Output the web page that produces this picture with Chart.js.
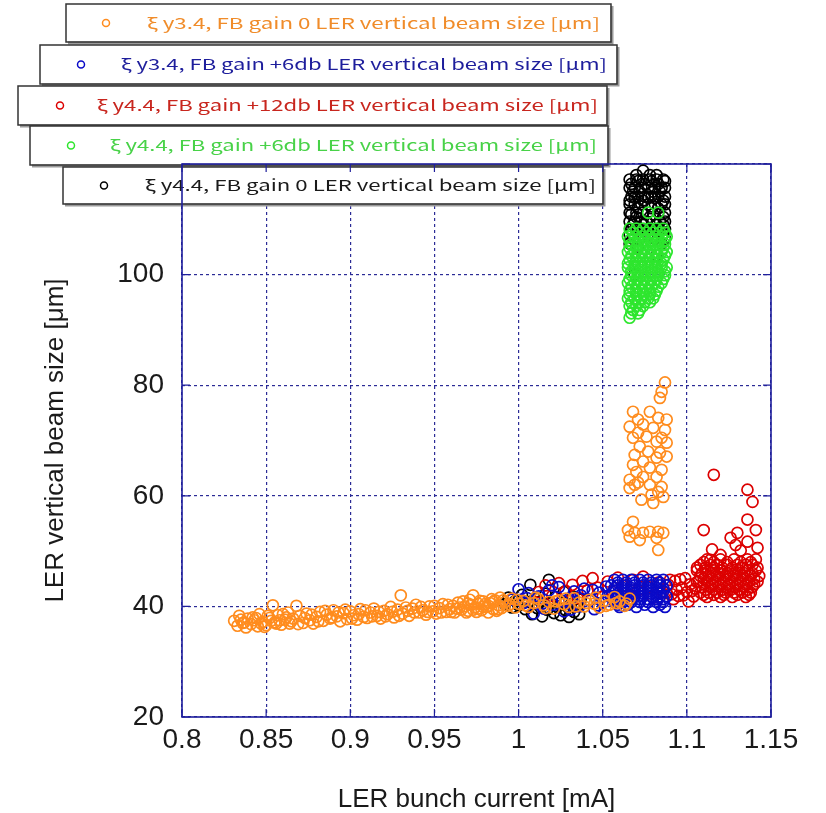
<!DOCTYPE html>
<html>
<head>
<meta charset="utf-8">
<script src="https://cdn.jsdelivr.net/npm/chart.js@4/dist/chart.umd.min.js"></script>
<style>
  html, body { margin: 0; padding: 0; background: #ffffff; }
  canvas { display: block; }
</style>
</head>
<body>
<canvas id="chart" width="826" height="813"></canvas>
<script>
// ---- axis ticks ----
const xTicks = [0.8, 0.85, 0.9, 0.95, 1, 1.05, 1.1, 1.15];
const xTickLabels = ['0.8', '0.85', '0.9', '0.95', '1', '1.05', '1.1', '1.15'];
const yTicks = [20, 40, 60, 80, 100, 120];
const yTickLabels = ['20', '40', '60', '80', '100', ''];

// ---- series names ----
const seriesLabels = [
  'ξ y3.4, FB gain 0 LER vertical beam size [μm]',
  'ξ y3.4, FB gain +6db LER vertical beam size [μm]',
  'ξ y4.4, FB gain +12db LER vertical beam size [μm]',
  'ξ y4.4, FB gain +6db LER vertical beam size [μm]',
  'ξ y4.4, FB gain 0 LER vertical beam size [μm]'
];

// ---- measurements: [bunch current mA, vertical beam size um] ----
const xi34Gain0 = [
  [0.831,37.4],[0.833,36.5],[0.834,38.3],[0.835,37.6],[0.836,37.0],[0.837,37.1],[0.838,36.2],[0.839,37.8],
  [0.841,36.8],[0.842,38.0],[0.843,37.5],[0.844,37.9],[0.845,36.4],[0.846,38.6],[0.847,36.9],[0.848,37.2],
  [0.849,36.3],[0.850,36.6],[0.851,38.3],[0.852,37.9],[0.853,37.4],[0.854,40.2],[0.855,37.1],[0.856,36.9],
  [0.857,38.4],[0.858,37.5],[0.859,36.7],[0.860,38.6],[0.861,37.6],[0.862,38.0],[0.863,38.9],[0.864,36.9],
  [0.865,37.3],[0.866,37.8],[0.868,40.1],[0.869,36.8],[0.870,38.3],[0.872,37.0],[0.873,37.9],[0.874,38.7],
  [0.876,37.5],[0.877,38.5],[0.878,36.9],[0.880,38.1],[0.881,37.3],[0.882,39.0],[0.884,37.4],[0.885,39.2],
  [0.886,38.5],[0.888,37.8],[0.889,38.0],[0.890,39.3],[0.892,38.2],[0.893,38.9],[0.894,37.3],[0.896,38.8],
  [0.897,39.4],[0.898,37.7],[0.900,39.1],[0.901,37.8],[0.902,38.4],[0.904,37.6],[0.905,38.6],[0.906,39.5],
  [0.908,38.1],[0.909,39.3],[0.910,37.9],[0.912,38.9],[0.913,38.2],[0.914,39.6],[0.916,38.3],[0.917,39.0],
  [0.918,37.8],[0.920,39.2],[0.921,38.2],[0.922,38.6],[0.924,39.9],[0.925,39.0],[0.926,38.0],[0.928,39.4],
  [0.929,38.3],[0.930,42.0],[0.931,38.7],[0.933,39.8],[0.934,39.2],[0.935,38.3],[0.937,39.6],[0.938,38.9],
  [0.939,40.3],[0.941,38.9],[0.942,39.9],[0.943,39.3],[0.945,38.5],[0.946,39.0],[0.947,40.0],[0.949,39.1],
  [0.950,40.1],[0.951,38.7],[0.953,39.7],[0.954,38.9],[0.955,40.4],[0.957,39.0],[0.958,40.3],[0.959,39.5],
  [0.960,39.0],[0.961,40.1],[0.962,38.9],[0.963,39.6],[0.964,40.7],[0.965,39.8],[0.966,39.4],[0.967,40.9],
  [0.968,40.0],[0.969,38.9],[0.970,39.2],[0.970,40.5],[0.971,41.2],[0.972,40.3],[0.973,42.0],[0.973,39.4],
  [0.974,39.8],[0.975,39.0],[0.976,40.5],[0.976,39.6],[0.977,41.0],[0.978,39.3],[0.979,40.9],[0.979,39.9],
  [0.980,40.4],[0.981,39.9],[0.982,38.9],[0.982,40.1],[0.983,40.6],[0.984,41.3],[0.985,39.5],[0.985,40.8],
  [0.986,41.1],[0.987,39.2],[0.988,40.2],[0.988,39.5],[0.989,41.6],[0.990,39.7],[0.991,41.1],[0.992,40.8],
  [0.994,40.1],[0.995,40.4],[0.996,41.4],[0.998,39.8],[0.999,41.2],[1.000,40.5],[1.003,41.0],[1.004,40.2],
  [1.006,39.9],[1.009,40.6],[1.010,41.6],[1.012,41.3],[1.015,40.2],[1.016,39.7],[1.018,40.8],[1.021,39.6],
  [1.022,40.9],[1.024,41.1],[1.027,40.4],[1.028,41.4],[1.030,39.9],[1.033,41.5],[1.034,40.0],[1.036,40.7],
  [1.039,40.0],[1.040,40.6],[1.042,41.2],[1.045,40.5],[1.046,41.6],[1.048,39.8],[1.051,41.0],[1.052,40.1],
  [1.054,40.3],[1.057,41.7],[1.058,40.6],[1.060,40.9],[1.063,40.1],[1.064,40.5],[1.066,41.4],
  [1.087,80.5],[1.085,78.8],[1.084,77.7],[1.068,75.2],[1.078,75.2],[1.071,73.8],[1.083,74.1],[1.088,73.8],
  [1.074,72.9],[1.066,72.5],[1.080,72.3],[1.087,71.9],[1.071,71.4],[1.076,70.7],[1.085,70.5],[1.068,70.5],
  [1.082,69.8],[1.088,69.6],[1.072,68.9],[1.077,68.0],[1.084,67.8],[1.069,67.4],[1.082,66.9],[1.088,67.1],
  [1.074,66.2],[1.068,65.6],[1.078,65.1],[1.085,64.7],[1.070,64.3],[1.074,63.4],[1.082,63.4],[1.066,62.9],
  [1.071,62.4],[1.078,62.0],[1.085,61.6],[1.083,60.7],[1.086,59.8],[1.079,60.2],[1.073,59.3],[1.080,58.7],
  [1.069,62.0],[1.066,61.4],
  [1.068,55.3],[1.065,53.8],[1.069,53.3],[1.074,53.3],[1.078,53.5],[1.083,53.5],[1.086,53.3],[1.072,52.0],
  [1.066,52.6],[1.082,52.4],[1.083,50.2]
];

const xi34Gain6 = [
  [0.996,41.2],[1.000,43.1],[1.003,40.6],[1.005,41.5],[1.006,42.4],[1.009,38.7],[1.012,41.8],[1.014,40.5],
  [1.015,39.6],[1.018,42.9],[1.020,43.8],[1.021,40.3],[1.024,43.5],[1.026,41.0],[1.027,39.1],[1.030,41.4],
  [1.031,39.4],[1.033,42.7],[1.036,40.0],[1.037,42.0],[1.039,43.2],[1.042,41.1],[1.044,43.0],[1.045,39.5],
  [1.047,40.2],[1.048,42.5],[1.050,40.7],[1.052,43.6],[1.053,41.9],
  [1.057,44.8],[1.062,44.8],[1.067,44.8],[1.072,44.8],[1.077,44.8],[1.082,44.8],[1.086,44.8],
  [1.059,44.3],[1.064,44.3],[1.069,44.3],[1.074,44.3],[1.079,44.3],[1.084,44.3],
  [1.055,43.8],[1.059,43.8],[1.064,43.8],[1.069,43.8],[1.074,43.8],[1.079,43.8],[1.084,43.8],[1.088,43.8],
  [1.057,43.3],[1.062,43.3],[1.067,43.3],[1.072,43.3],[1.077,43.3],[1.082,43.3],[1.086,43.3],
  [1.057,42.8],[1.062,42.8],[1.067,42.8],[1.072,42.8],[1.077,42.8],[1.082,42.8],[1.086,42.8],
  [1.059,42.3],[1.064,42.3],[1.069,42.3],[1.074,42.3],[1.079,42.3],[1.084,42.3],
  [1.055,41.8],[1.059,41.8],[1.064,41.8],[1.069,41.8],[1.074,41.8],[1.079,41.8],[1.084,41.8],[1.088,41.8],
  [1.057,41.3],[1.062,41.3],[1.067,41.3],[1.072,41.3],[1.077,41.3],[1.082,41.3],[1.086,41.3],
  [1.057,40.8],[1.062,40.8],[1.067,40.8],[1.072,40.8],[1.077,40.8],[1.082,40.8],[1.086,40.8],
  [1.059,40.3],[1.065,40.3],[1.075,40.3],[1.084,40.3],
  [1.060,39.9],[1.070,39.9],[1.080,39.9],[1.087,39.9]
];

const xi44Gain12 = [
  [1.012,42.6],[1.016,43.8],[1.020,41.9],[1.024,44.2],[1.028,42.8],[1.032,43.9],[1.035,41.5],[1.038,44.6],
  [1.041,42.9],[1.044,45.1],[1.047,43.4],[1.050,41.8],[1.053,44.5],[1.056,42.6],[1.059,45.2],[1.062,43.7],
  [1.065,41.9],[1.068,44.8],[1.071,42.9],[1.074,45.4],[1.077,43.5],[1.080,41.6],[1.083,44.3],[1.086,42.7],
  [1.088,42.4],[1.089,43.9],[1.090,44.8],[1.091,42.2],[1.092,41.3],[1.093,44.6],[1.094,43.0],[1.095,41.9],
  [1.096,44.9],[1.097,43.4],[1.098,42.0],[1.099,45.1],[1.100,42.6],[1.101,40.9],[1.102,44.0],[1.103,42.8],
  [1.104,41.8],[1.105,43.2],[1.106,44.4],
  [1.112,48.5],[1.120,48.5],[1.128,48.5],[1.136,48.5],[1.141,48.5],
  [1.110,48.0],[1.116,48.0],[1.124,48.0],[1.132,48.0],[1.138,48.0],
  [1.108,47.5],[1.114,47.5],[1.118,47.5],[1.124,47.5],[1.130,47.5],[1.135,47.5],[1.139,47.5],
  [1.111,47.0],[1.116,47.0],[1.121,47.0],[1.127,47.0],[1.133,47.0],[1.142,47.0],
  [1.106,46.5],[1.111,46.5],[1.116,46.5],[1.121,46.5],[1.126,46.5],[1.131,46.5],[1.136,46.5],[1.141,46.5],
  [1.109,46.0],[1.114,46.0],[1.119,46.0],[1.124,46.0],[1.129,46.0],[1.134,46.0],[1.139,46.0],
  [1.108,45.5],[1.113,45.5],[1.118,45.5],[1.123,45.5],[1.128,45.5],[1.133,45.5],[1.138,45.5],[1.143,45.5],
  [1.110,45.0],[1.115,45.0],[1.120,45.0],[1.125,45.0],[1.130,45.0],[1.135,45.0],[1.140,45.0],
  [1.107,44.5],[1.112,44.5],[1.117,44.5],[1.122,44.5],[1.127,44.5],[1.132,44.5],[1.137,44.5],[1.142,44.5],
  [1.110,44.0],[1.115,44.0],[1.120,44.0],[1.125,44.0],[1.130,44.0],[1.135,44.0],[1.140,44.0],
  [1.109,43.5],[1.114,43.5],[1.119,43.5],[1.124,43.5],[1.129,43.5],[1.134,43.5],[1.139,43.5],
  [1.111,43.0],[1.116,43.0],[1.121,43.0],[1.126,43.0],[1.131,43.0],[1.136,43.0],
  [1.108,42.5],[1.113,42.5],[1.118,42.5],[1.123,42.5],[1.128,42.5],[1.133,42.5],[1.138,42.5],
  [1.110,42.1],[1.116,42.1],[1.122,42.1],[1.130,42.1],[1.137,42.1],
  [1.112,41.7],[1.120,41.7],[1.127,41.7],[1.135,41.7],
  [1.116,63.8],[1.136,61.1],[1.139,58.9],[1.136,55.7],[1.141,53.8],[1.110,53.8],[1.126,52.4],[1.130,53.3],
  [1.142,50.6],[1.120,49.3],[1.106,47.0],[1.132,50.1],[1.136,51.7],[1.129,51.1],[1.115,50.3],[1.114,48.4]
];

const xi44Gain6 = [
  [1.077,111.2],[1.083,111.2],
  [1.066,108.3],[1.070,108.3],[1.074,108.3],[1.078,108.3],[1.082,108.3],[1.086,108.3],
  [1.068,107.6],[1.072,107.6],[1.076,107.6],[1.080,107.6],[1.084,107.6],[1.087,107.6],
  [1.065,106.9],[1.069,106.9],[1.073,106.9],[1.077,106.9],[1.081,106.9],[1.085,106.9],[1.088,106.9],
  [1.066,106.2],[1.071,106.2],[1.075,106.2],[1.079,106.2],[1.083,106.2],[1.087,106.2],
  [1.067,105.5],[1.071,105.5],[1.075,105.5],[1.079,105.5],[1.083,105.5],[1.087,105.5],
  [1.066,104.8],[1.070,104.8],[1.074,104.8],[1.078,104.8],[1.082,104.8],[1.086,104.8],
  [1.065,104.1],[1.069,104.1],[1.073,104.1],[1.077,104.1],[1.081,104.1],[1.085,104.1],[1.088,104.1],
  [1.067,103.4],[1.071,103.4],[1.075,103.4],[1.079,103.4],[1.083,103.4],[1.087,103.4],
  [1.066,102.7],[1.070,102.7],[1.074,102.7],[1.078,102.7],[1.082,102.7],[1.086,102.7],
  [1.065,102.0],[1.069,102.0],[1.073,102.0],[1.077,102.0],[1.081,102.0],[1.085,102.0],
  [1.065,101.3],[1.069,101.3],[1.073,101.3],[1.077,101.3],[1.081,101.3],[1.085,101.3],[1.088,101.3],
  [1.067,100.6],[1.071,100.6],[1.075,100.6],[1.079,100.6],[1.083,100.6],[1.087,100.6],
  [1.067,99.9],[1.071,99.9],[1.075,99.9],[1.079,99.9],[1.083,99.9],[1.087,99.9],
  [1.066,99.2],[1.070,99.2],[1.074,99.2],[1.078,99.2],[1.082,99.2],[1.086,99.2],
  [1.065,98.5],[1.069,98.5],[1.073,98.5],[1.077,98.5],[1.081,98.5],[1.085,98.5],
  [1.067,97.8],[1.071,97.8],[1.075,97.8],[1.079,97.8],[1.083,97.8],
  [1.066,97.1],[1.070,97.1],[1.074,97.1],[1.078,97.1],[1.082,97.1],
  [1.066,96.4],[1.070,96.4],[1.074,96.4],[1.078,96.4],[1.081,96.4],
  [1.065,95.7],[1.069,95.7],[1.073,95.7],[1.077,95.7],[1.080,95.7],
  [1.067,95.0],[1.071,95.0],[1.075,95.0],[1.078,95.0],
  [1.066,94.3],[1.070,94.3],[1.074,94.3],
  [1.068,93.6],[1.072,93.6],
  [1.067,93.0],[1.071,93.0],[1.066,92.2]
];

const xi44Gain0 = [
  [0.992,40.4],[0.994,41.6],[0.996,39.8],[0.998,41.0],[1.000,40.2],[1.002,42.1],[1.004,39.5],[1.006,40.8],
  [1.007,43.9],[1.008,38.6],[1.010,41.5],[1.011,39.7],[1.013,40.9],[1.014,38.2],[1.016,42.3],[1.017,39.4],
  [1.018,44.8],[1.019,40.6],[1.021,38.8],[1.022,41.7],[1.023,39.9],[1.025,38.4],[1.026,40.9],[1.027,42.6],
  [1.028,39.3],[1.030,38.1],[1.031,40.4],[1.032,41.8],[1.033,39.0],[1.035,40.1],[1.036,38.6],[1.037,41.2],
  [1.074,118.8],
  [1.070,118.0],[1.078,118.0],[1.082,118.0],
  [1.066,117.2],[1.070,117.2],[1.074,117.2],[1.078,117.2],[1.082,117.2],[1.086,117.2],
  [1.071,116.9],[1.079,116.9],[1.087,116.9],
  [1.067,116.4],[1.075,116.4],[1.083,116.4],
  [1.066,115.7],[1.069,115.7],[1.073,115.7],[1.077,115.7],[1.081,115.7],[1.085,115.7],[1.087,115.7],
  [1.068,115.0],[1.072,115.0],[1.080,115.0],[1.084,115.0],
  [1.067,114.1],[1.071,114.1],[1.075,114.1],[1.079,114.1],[1.083,114.1],[1.087,114.1],
  [1.069,113.9],[1.077,113.9],[1.081,113.9],
  [1.066,113.4],[1.074,113.4],[1.086,113.4],
  [1.066,112.7],[1.069,112.7],[1.073,112.7],[1.077,112.7],[1.081,112.7],[1.085,112.7],[1.087,112.7],
  [1.071,112.0],[1.079,112.0],[1.083,112.0],
  [1.066,111.2],[1.070,111.2],[1.074,111.2],[1.083,111.2],[1.087,111.2],
  [1.067,110.9],[1.080,110.9],
  [1.070,110.4],[1.078,110.4],[1.086,110.4],
  [1.066,109.6],[1.069,109.6],[1.073,109.6],[1.076,109.6],[1.080,109.6],[1.084,109.6],[1.087,109.6],
  [1.068,109.0],[1.074,109.0],[1.082,109.0],[1.086,109.0],
  [1.067,108.2],[1.071,108.2],[1.075,108.2],[1.079,108.2],[1.083,108.2],[1.087,108.2],
  [1.066,107.3],[1.077,107.3],[1.086,107.3],
  [1.068,106.5],[1.072,106.5],[1.081,106.5],[1.087,106.5],
  [1.066,105.6],[1.085,105.6],
  [1.071,105.0],[1.082,103.5],[1.069,100.0]
];

const seriesData = [xi34Gain0, xi34Gain6, xi44Gain12, xi44Gain6, xi44Gain0];
const markerColors = ['#ff8c1e', '#0a0ac8', '#dc0000', '#2ee62e', '#000000'];
const labelColors = ['#f08c2a', '#1e1e9c', '#c8261e', '#48d248', '#1a1a1a'];
// stacking: orange on top, then blue, green, red, black at the bottom
const drawOrder = [1, 2, 4, 3, 5];

// ---- legend box placement (one box per series) ----
const legendBoxes = [
  { x: 66, y: 4,   w: 545, h: 38, mx: 106, tx: 147, tw: 453 },
  { x: 40, y: 45,  w: 577, h: 39, mx: 81,  tx: 121, tw: 486 },
  { x: 18, y: 86,  w: 589, h: 39, mx: 60,  tx: 97,  tw: 501 },
  { x: 30, y: 126, w: 578, h: 39, mx: 71,  tx: 110, tw: 487 },
  { x: 63, y: 167, w: 540, h: 37, mx: 104, tx: 145, tw: 451 }
];

const frameColor = '#1f1f9c';
const gridColor = '#2b2b96';
const textFont = '"Liberation Sans Narrow", "Liberation Sans", Arial, sans-serif';

const legendAndFrame = {
  id: 'legendAndFrame',
  beforeDatasetsDraw(chart) {
    const ctx = chart.ctx;
    const a = chart.chartArea;
    ctx.save();
    // stacked legend boxes
    legendBoxes.forEach((b, i) => {
      ctx.fillStyle = '#ffffff';
      ctx.fillRect(b.x, b.y, b.w, b.h);
      ctx.strokeStyle = '#9a9a9a';
      ctx.lineWidth = 3;
      ctx.beginPath();
      ctx.moveTo(b.x + 2, b.y + b.h + 1);
      ctx.lineTo(b.x + b.w + 1, b.y + b.h + 1);
      ctx.lineTo(b.x + b.w + 1, b.y + 2);
      ctx.stroke();
      ctx.strokeStyle = '#333333';
      ctx.lineWidth = 1.5;
      ctx.strokeRect(b.x, b.y, b.w, b.h);
      const cy = b.y + b.h / 2;
      ctx.strokeStyle = markerColors[i];
      ctx.lineWidth = 1.5;
      ctx.beginPath();
      ctx.arc(b.mx, cy, 3.5, 0, Math.PI * 2);
      ctx.stroke();
      ctx.font = '15px "Noto Sans CJK JP", "Noto Sans", sans-serif';
      ctx.textBaseline = 'middle';
      ctx.textAlign = 'left';
      ctx.fillStyle = labelColors[i];
      const w = ctx.measureText(seriesLabels[i]).width;
      ctx.save();
      ctx.translate(b.tx, cy);
      ctx.scale(b.tw / w, 1);
      ctx.fillText(seriesLabels[i], 0, 0);
      ctx.restore();
    });
    // plot frame with short inner ticks
    ctx.strokeStyle = frameColor;
    ctx.lineWidth = 1.6;
    ctx.strokeRect(a.left, a.top, a.right - a.left, a.bottom - a.top);
    const xs = chart.scales.x, ys = chart.scales.y;
    ctx.lineWidth = 1.2;
    ctx.beginPath();
    yTicks.forEach(v => {
      const py = ys.getPixelForValue(v);
      ctx.moveTo(a.left, py); ctx.lineTo(a.left + 8, py);
      ctx.moveTo(a.right - 8, py); ctx.lineTo(a.right, py);
    });
    xTicks.forEach(v => {
      const px = xs.getPixelForValue(v);
      ctx.moveTo(px, a.bottom); ctx.lineTo(px, a.bottom - 8);
      ctx.moveTo(px, a.top); ctx.lineTo(px, a.top + 8);
    });
    ctx.stroke();
    ctx.restore();
  }
};

const datasets = seriesData.map((pts, i) => ({
  label: seriesLabels[i],
  data: pts.map(p => ({ x: p[0], y: p[1] })),
  order: drawOrder[i],
  showLine: false,
  pointStyle: 'circle',
  pointRadius: 5.5,
  pointHoverRadius: 5.5,
  pointBorderWidth: 1.7,
  pointBackgroundColor: 'rgba(255,255,255,0)',
  pointBorderColor: markerColors[i],
  borderColor: markerColors[i],
  backgroundColor: 'rgba(255,255,255,0)'
}));

new Chart(document.getElementById('chart'), {
  type: 'scatter',
  data: { datasets },
  plugins: [legendAndFrame],
  options: {
    responsive: false,
    animation: false,
    devicePixelRatio: 1,
    layout: { padding: { left: 0, right: 55, top: 164, bottom: 0 } },
    plugins: { legend: { display: false }, tooltip: { enabled: false } },
    scales: {
      x: {
        type: 'linear',
        min: 0.8, max: 1.15,
        afterBuildTicks: s => { s.ticks = xTicks.map(v => ({ value: v })); },
        afterFit: s => { s.height = 96; },
        ticks: {
          callback: (v, i) => xTickLabels[i],
          color: '#1a1a1a',
          font: { family: textFont, size: 28 },
          padding: 6,
          maxRotation: 0, autoSkip: false
        },
        grid: { color: gridColor, lineWidth: 1.2, drawTicks: false },
        border: { display: false, dash: [3, 3] },
        title: {
          display: true,
          text: 'LER bunch current [mA]',
          color: '#1a1a1a',
          font: { family: textFont, size: 26, lineHeight: 1 },
          padding: { top: 0, bottom: 0 }
        }
      },
      y: {
        type: 'linear',
        min: 20, max: 120,
        afterBuildTicks: s => { s.ticks = yTicks.map(v => ({ value: v })); },
        afterFit: s => { s.width = 182; },
        ticks: {
          callback: (v, i) => yTickLabels[i],
          color: '#1a1a1a',
          font: { family: textFont, size: 28 },
          padding: 18,
          autoSkip: false
        },
        grid: { color: gridColor, lineWidth: 1.2, drawTicks: false },
        border: { display: false, dash: [3, 3] },
        title: {
          display: true,
          text: 'LER vertical beam size [μm]',
          color: '#1a1a1a',
          font: { family: textFont, size: 26 },
          padding: { top: 40, bottom: 0 }
        }
      }
    }
  }
});
</script>
</body>
</html>
